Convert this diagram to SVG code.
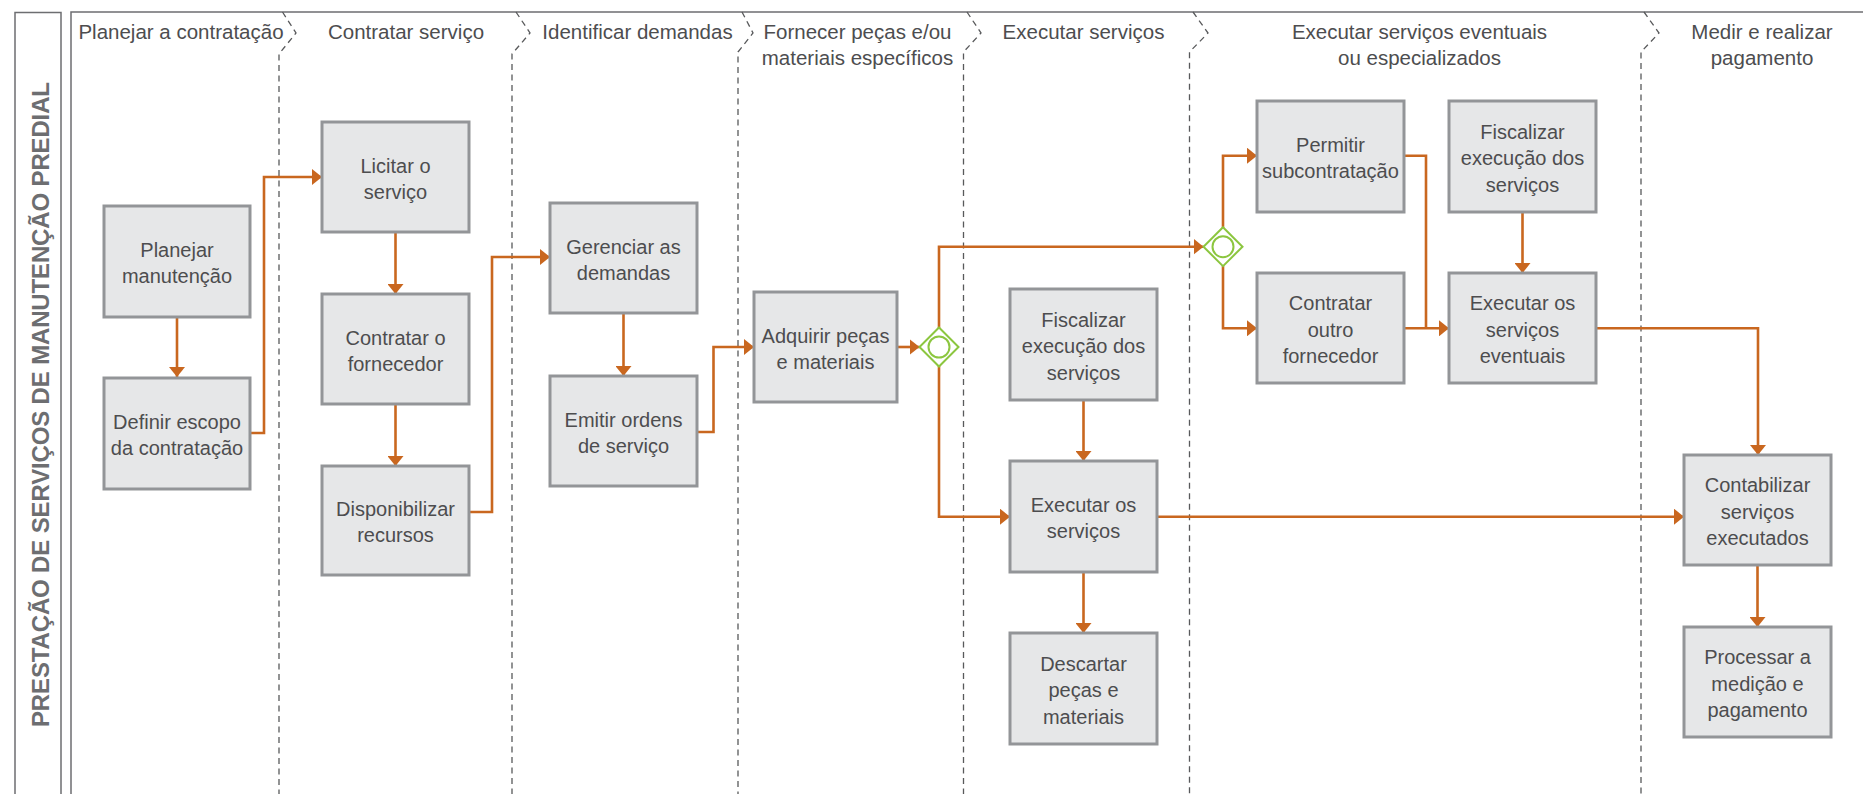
<svg xmlns="http://www.w3.org/2000/svg" width="1863" height="794" viewBox="0 0 1863 794">
<style>
.frame{fill:none;stroke:#6d6e71;stroke-width:1.5}
.div{fill:none;stroke:#58595b;stroke-width:1.3;stroke-dasharray:6 4.5}
.hdr{font-family:"Liberation Sans",Arial,sans-serif;font-size:20.5px;fill:#4d4d4f;text-anchor:middle}
.title{font-family:"Liberation Sans",Arial,sans-serif;font-size:24px;font-weight:bold;fill:#6d6e71;text-anchor:middle}
.box rect{fill:#e6e7e8;stroke:#939598;stroke-width:3}
.box text{font-family:"Liberation Sans",Arial,sans-serif;font-size:20px;fill:#4d4d4f;text-anchor:middle}
.con{fill:none;stroke:#c9671f;stroke-width:2.6}
.gw{fill:#fff;stroke:#8cc63f;stroke-width:2}
</style>
<defs>
<marker id="arr" markerUnits="userSpaceOnUse" markerWidth="10" markerHeight="16" refX="10" refY="8" orient="auto">
<path d="M0,0 L10,8 L0,16 Z" fill="#c9671f"/>
</marker>
</defs>
<rect width="1863" height="794" fill="#fff"/>

<g id="pool">
<rect class="frame" x="15" y="12.5" width="46" height="800"/>
<path class="frame" d="M71,812 V12 H1870"/>
<text class="title" x="49.4" y="404.5" transform="rotate(-90 49.4 404.5)" textLength="645" lengthAdjust="spacing">PRESTAÇÃO DE SERVIÇOS DE MANUTENÇÃO PREDIAL</text>
</g>

<g id="lanes">
<path class="div" d="M282.5,12 L296,33 L279,54 V800"/>
<path class="div" d="M516,12 L530,33 L512,54 V800"/>
<path class="div" d="M742,12 L753,33 L738,52 V800"/>
<path class="div" d="M967,12 L981,33 L963.5,52 V800"/>
<path class="div" d="M1193,12 L1208,33 L1189.5,52 V800"/>
<path class="div" d="M1644,12 L1659,33 L1641,52 V800"/>
<text class="hdr" x="181" y="39">Planejar a contratação</text>
<text class="hdr" x="406" y="39">Contratar serviço</text>
<text class="hdr" x="637.5" y="39">Identificar demandas</text>
<text class="hdr" x="857.5" y="39">Fornecer peças e/ou</text>
<text class="hdr" x="857.5" y="65">materiais específicos</text>
<text class="hdr" x="1083.5" y="39">Executar serviços</text>
<text class="hdr" x="1419.5" y="39">Executar serviços eventuais</text>
<text class="hdr" x="1419.5" y="65">ou especializados</text>
<text class="hdr" x="1762" y="39">Medir e realizar</text>
<text class="hdr" x="1762" y="65">pagamento</text>
</g>

<g id="connectors">
<path class="con" d="M177,317 V377" marker-end="url(#arr)"/>
<path class="con" d="M250,433 H264 V177 H322" marker-end="url(#arr)"/>
<path class="con" d="M395.5,232 V294" marker-end="url(#arr)"/>
<path class="con" d="M395.5,404 V466" marker-end="url(#arr)"/>
<path class="con" d="M469,512 H492 V257 H550" marker-end="url(#arr)"/>
<path class="con" d="M623.5,313 V376" marker-end="url(#arr)"/>
<path class="con" d="M697,432 H713.5 V347 H754" marker-end="url(#arr)"/>
<path class="con" d="M897,347 H919.5" marker-end="url(#arr)"/>
<path class="con" d="M939,328 V246.7 H1203.5" marker-end="url(#arr)"/>
<path class="con" d="M939,366 V516.7 H1010" marker-end="url(#arr)"/>
<path class="con" d="M1083.5,400 V461" marker-end="url(#arr)"/>
<path class="con" d="M1083.5,572 V633" marker-end="url(#arr)"/>
<path class="con" d="M1223,228 V155.7 H1257" marker-end="url(#arr)"/>
<path class="con" d="M1223,266 V328.3 H1257" marker-end="url(#arr)"/>
<path class="con" d="M1404,155.7 H1426 V328.3"/>
<path class="con" d="M1404,328.3 H1449" marker-end="url(#arr)"/>
<path class="con" d="M1522.5,212 V273" marker-end="url(#arr)"/>
<path class="con" d="M1596,328.3 H1758 V455" marker-end="url(#arr)"/>
<path class="con" d="M1157,516.7 H1684" marker-end="url(#arr)"/>
<path class="con" d="M1757.5,565 V627" marker-end="url(#arr)"/>
</g>

<g id="gw1">
<path class="gw" d="M939,327.5 L958.5,347 L939,366.5 L919.5,347 Z"/>
<circle class="gw" cx="939" cy="347" r="10.5"/>
</g>
<g id="gw2">
<path class="gw" d="M1223,227.2 L1242.5,246.7 L1223,266.2 L1203.5,246.7 Z"/>
<circle class="gw" cx="1223" cy="246.7" r="10.5"/>
</g>

<g id="n1" class="box"><rect x="104" y="206" width="146" height="111"/><text x="177" y="256.5">Planejar</text><text x="177" y="282.5">manutenção</text></g>
<g id="n2" class="box"><rect x="104" y="378" width="146" height="111"/><text x="177" y="429">Definir escopo</text><text x="177" y="455">da contratação</text></g>
<g id="n3" class="box"><rect x="322" y="122" width="147" height="110"/><text x="395.5" y="172.5">Licitar o</text><text x="395.5" y="198.5">serviço</text></g>
<g id="n4" class="box"><rect x="322" y="294" width="147" height="110"/><text x="395.5" y="344.5">Contratar o</text><text x="395.5" y="370.5">fornecedor</text></g>
<g id="n5" class="box"><rect x="322" y="466" width="147" height="109"/><text x="395.5" y="516">Disponibilizar</text><text x="395.5" y="542">recursos</text></g>
<g id="n6" class="box"><rect x="550" y="203" width="147" height="110"/><text x="623.5" y="253.5">Gerenciar as</text><text x="623.5" y="279.5">demandas</text></g>
<g id="n7" class="box"><rect x="550" y="376" width="147" height="110"/><text x="623.5" y="426.5">Emitir ordens</text><text x="623.5" y="452.5">de serviço</text></g>
<g id="n8" class="box"><rect x="754" y="292" width="143" height="110"/><text x="825.5" y="342.5">Adquirir peças</text><text x="825.5" y="368.5">e materiais</text></g>
<g id="n9" class="box"><rect x="1010" y="289" width="147" height="111"/><text x="1083.5" y="326.5">Fiscalizar</text><text x="1083.5" y="353">execução dos</text><text x="1083.5" y="379.5">serviços</text></g>
<g id="n10" class="box"><rect x="1010" y="461" width="147" height="111"/><text x="1083.5" y="512">Executar os</text><text x="1083.5" y="538">serviços</text></g>
<g id="n11" class="box"><rect x="1010" y="633" width="147" height="111"/><text x="1083.5" y="670.5">Descartar</text><text x="1083.5" y="697">peças e</text><text x="1083.5" y="723.5">materiais</text></g>
<g id="n12" class="box"><rect x="1257" y="101" width="147" height="111"/><text x="1330.5" y="152">Permitir</text><text x="1330.5" y="178">subcontratação</text></g>
<g id="n13" class="box"><rect x="1449" y="101" width="147" height="111"/><text x="1522.5" y="138.5">Fiscalizar</text><text x="1522.5" y="165">execução dos</text><text x="1522.5" y="191.5">serviços</text></g>
<g id="n14" class="box"><rect x="1257" y="273" width="147" height="110"/><text x="1330.5" y="310">Contratar</text><text x="1330.5" y="336.5">outro</text><text x="1330.5" y="363">fornecedor</text></g>
<g id="n15" class="box"><rect x="1449" y="273" width="147" height="110"/><text x="1522.5" y="310">Executar os</text><text x="1522.5" y="336.5">serviços</text><text x="1522.5" y="363">eventuais</text></g>
<g id="n16" class="box"><rect x="1684" y="455" width="147" height="110"/><text x="1757.5" y="492">Contabilizar</text><text x="1757.5" y="518.5">serviços</text><text x="1757.5" y="545">executados</text></g>
<g id="n17" class="box"><rect x="1684" y="627" width="147" height="110"/><text x="1757.5" y="664">Processar a</text><text x="1757.5" y="690.5">medição e</text><text x="1757.5" y="717">pagamento</text></g>
</svg>
